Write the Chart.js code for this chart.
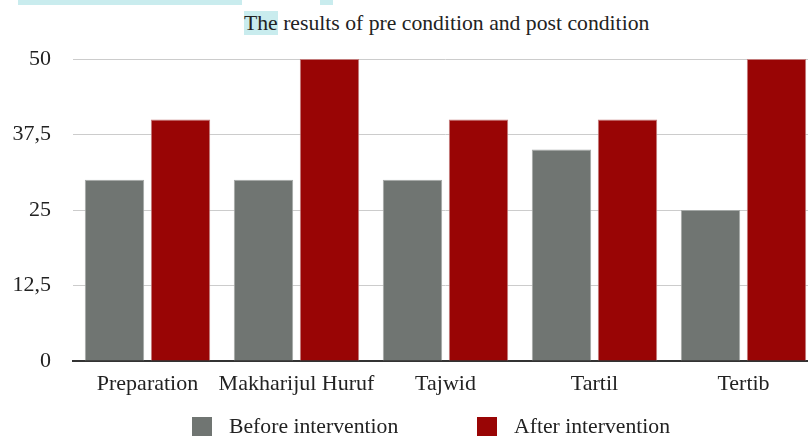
<!DOCTYPE html>
<html lang="en">
<head>
  <meta charset="UTF-8" />
  <title>The results of pre condition and post condition</title>
  <script src="https://cdn.jsdelivr.net/npm/chart.js@4.4.8/dist/chart.umd.min.js"></script>
  <style>
    html, body { margin: 0; padding: 0; background: #fff; overflow: hidden; }
    body { width: 808px; height: 436px; position: relative; font-family: 'Liberation Serif', 'DejaVu Serif', serif; color: #222; }
    #wrap { position: absolute; left: 0; top: 0; width: 820px; height: 436px; }
    .mark { position: absolute; background: #c9ecee; }
    #title { position: absolute; left: 244px; top: 10px; font-size: 21.7px; line-height: 26px; white-space: nowrap; }
    #title .hl { background: #c9ecee; }
    .leg { position: absolute; top: 417px; font-size: 21.7px; line-height: 26px; white-space: nowrap; }
    .leg i { position: absolute; left: 0; top: 0; width: 20px; height: 20px; }
    .leg span { position: absolute; left: 37px; top: -4px; }
  </style>
</head>
<body>
  <div class="mark" style="left:18px;top:0;width:224px;height:5px"></div>
  <div class="mark" style="left:320px;top:0;width:13px;height:5px"></div>
  <div id="title"><span class="hl">The</span> results of pre condition and post condition</div>
  <div id="wrap"><canvas id="chart" width="820" height="436"></canvas></div>
  <div class="leg" style="left:192px"><i style="background:#707572"></i><span>Before intervention</span></div>
  <div class="leg" style="left:477px"><i style="background:#990505"></i><span>After intervention</span></div>

  <script>
    // data
    const categories = ['Preparation', 'Makharijul Huruf', 'Tajwid', 'Tartil', 'Tertib'];
    const beforeValues = [30, 30, 30, 35, 25];
    const afterValues = [40, 50, 40, 40, 50];
    const yTicks = [0, 12.5, 25, 37.5, 50];

    const serif = "'Liberation Serif', 'DejaVu Serif', serif";

    new Chart(document.getElementById('chart'), {
      type: 'bar',
      data: {
        labels: categories,
        datasets: [
          {
            label: 'Before intervention',
            data: beforeValues,
            backgroundColor: '#707572',
            borderColor: '#a4a8a6',
            borderWidth: 1,
            categoryPercentage: 0.886,
            barPercentage: 0.9
          },
          {
            label: 'After intervention',
            data: afterValues,
            backgroundColor: '#990505',
            borderColor: '#c27a7a',
            borderWidth: 1,
            categoryPercentage: 0.886,
            barPercentage: 0.9
          }
        ]
      },
      options: {
        responsive: false,
        animation: false,
        layout: { padding: { top: 59, right: 2, left: 0, bottom: 0 } },
        plugins: {
          legend: { display: false },
          title: { display: false },
          tooltip: { enabled: false }
        },
        scales: {
          x: {
            grid: { display: false, drawTicks: false },
            border: { display: true, color: '#333', width: 2 },
            ticks: { color: '#222', font: { family: serif, size: 22 }, padding: 10, maxRotation: 0, autoSkip: false },
            afterFit: s => { s.height = 75; }
          },
          y: {
            min: 0,
            max: 50,
            afterBuildTicks: s => { s.ticks = yTicks.map(v => ({ value: v })); },
            grid: { color: '#cccccc', lineWidth: 1, drawTicks: false },
            border: { display: false },
            ticks: {
              color: '#222',
              font: { family: serif, size: 22 },
              padding: 22,
              callback: v => String(v).replace('.', ',')
            },
            afterFit: s => { s.width = 73; }
          }
        }
      }
    });
  </script>
</body>
</html>
